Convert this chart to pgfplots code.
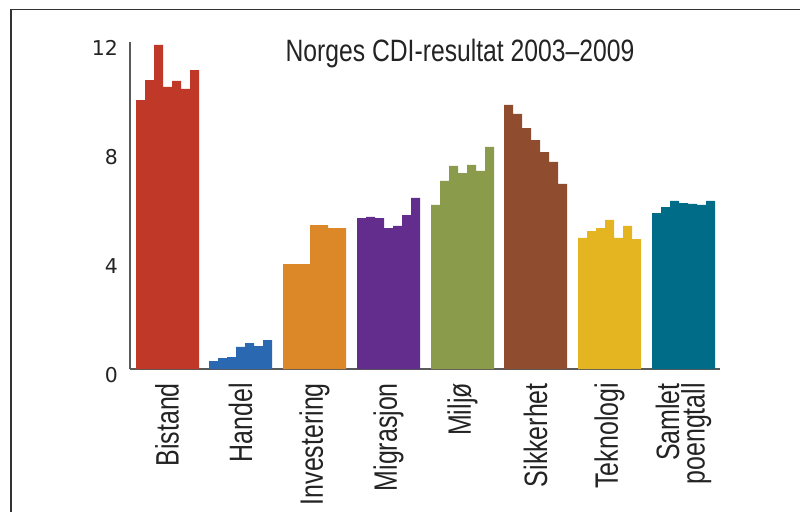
\documentclass[border=0pt]{standalone}
\usepackage{fontspec}
\usepackage{pgfplots}
\pgfplotsset{compat=1.18}
\setmainfont{Liberation Sans}
\newfontfamily\cond[FakeStretch=0.77]{Liberation Sans}
\newfontfamily\condt[FakeStretch=0.8]{Liberation Sans}
\newfontfamily\tickfont{DejaVu Sans}
\definecolor{cBistand}{RGB}{191,56,40}
\definecolor{cHandel}{RGB}{42,105,178}
\definecolor{cInvest}{RGB}{220,135,40}
\definecolor{cMigr}{RGB}{99,45,142}
\definecolor{cMiljo}{RGB}{139,155,76}
\definecolor{cSikk}{RGB}{143,76,46}
\definecolor{cTekn}{RGB}{229,181,33}
\definecolor{cSaml}{RGB}{0,108,135}
\definecolor{axgray}{RGB}{90,90,90}
\definecolor{txt}{RGB}{35,35,35}
\begin{document}
\begin{tikzpicture}
\useasboundingbox (0,0) rectangle (800bp,512bp);
\draw[line width=1.6bp, draw=black!80] (11bp,0) -- (11bp,502.5bp) -- (800bp,502.5bp);
\begin{axis}[
  at={(130bp,143bp)}, anchor=south west,
  scale only axis, width=590bp, height=327bp,
  xmin=130, xmax=720, ymin=0, ymax=12,
  axis x line=bottom, axis y line=left,
  axis line style={-, draw=axgray, line width=1.5bp},
  major tick length=0pt,
  ytick={0,4,8,12},
  yticklabel style={font=\tickfont\fontsize{20.5}{20.5}\selectfont, text=txt, anchor=east, inner sep=0pt, xshift=-12bp, yshift=-6bp},
  /pgf/number format/assume math mode=true,
  xtick={167,240.5,314.5,388.5,462.5,535.5,609.5,683.5},
  xticklabels={Bistand,Handel,Investering,Migrasjon,Milj{\o},Sikkerhet,Teknologi,{Samlet\\poengtall}},
  xticklabel style={font=\cond\fontsize{32.5}{25.5}\selectfont, text=txt, yshift=-14bp, rotate=90, anchor=east, inner sep=0pt, align=right},
  clip=false,
]
\addplot[ybar, bar width=9, bar shift=0pt, fill=cBistand, draw=none] coordinates {
 (140.5,9.87) (149.5,10.60) (158.5,11.89) (167.5,10.35) (176.5,10.57) (185.5,10.28) (194.5,10.97)};
\addplot[ybar, bar width=9, bar shift=0pt, fill=cHandel, draw=none] coordinates {
 (213.5,0.29) (222.5,0.40) (231.5,0.44) (240.5,0.81) (249.5,0.95) (258.5,0.84) (267.5,1.06)};
\addplot[ybar, bar width=9, bar shift=0pt, fill=cInvest, draw=none] coordinates {
 (287.5,3.85) (296.5,3.85) (305.5,3.85) (314.5,5.28) (323.5,5.28) (332.5,5.17) (341.5,5.17)};
\addplot[ybar, bar width=9, bar shift=0pt, fill=cMigr, draw=none] coordinates {
 (361.5,5.54) (370.5,5.58) (379.5,5.54) (388.5,5.17) (397.5,5.25) (406.5,5.65) (415.5,6.28)};
\addplot[ybar, bar width=9, bar shift=0pt, fill=cMiljo, draw=none] coordinates {
 (435.5,6.02) (444.5,6.90) (453.5,7.45) (462.5,7.19) (471.5,7.49) (480.5,7.27) (489.5,8.15)};
\addplot[ybar, bar width=9, bar shift=0pt, fill=cSikk, draw=none] coordinates {
 (508.5,9.69) (517.5,9.36) (526.5,8.84) (535.5,8.40) (544.5,7.96) (553.5,7.60) (562.5,6.79)};
\addplot[ybar, bar width=9, bar shift=0pt, fill=cTekn, draw=none] coordinates {
 (582.5,4.81) (591.5,5.06) (600.5,5.17) (609.5,5.47) (618.5,4.81) (627.5,5.25) (636.5,4.77)};
\addplot[ybar, bar width=9, bar shift=0pt, fill=cSaml, draw=none] coordinates {
 (656.5,5.72) (665.5,5.94) (674.5,6.17) (683.5,6.09) (692.5,6.06) (701.5,6.02) (710.5,6.17)};
\node[anchor=base, font=\condt\fontsize{31}{31}\selectfont, text=txt, inner sep=0pt] at (axis cs:460,11.27) {Norges CDI-resultat 2003–2009};
\end{axis}
\end{tikzpicture}
\end{document}
